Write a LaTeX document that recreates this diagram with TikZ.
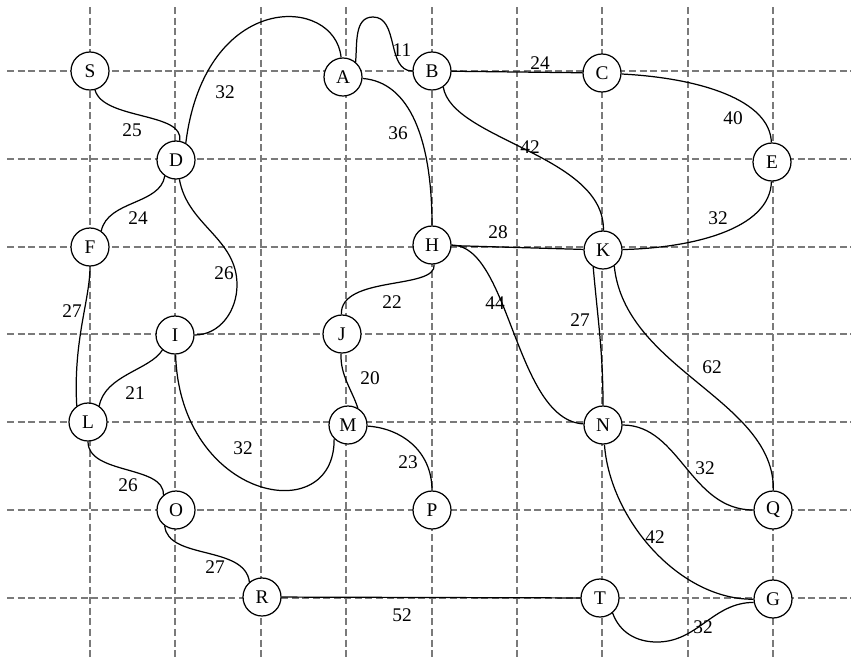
\documentclass[tikz,border=0pt]{standalone}
\usepackage{fontspec}
\setmainfont{Liberation Serif}
\usepackage{xcolor}
\usepackage{tikz}
\definecolor{GridGrey}{HTML}{7A7A7A}

\begin{document}
\begin{tikzpicture}[x=0.02cm, y=-0.02cm, font=\fontsize{11}{13}\selectfont,
  vtx/.style={draw, circle, fill=white, minimum size=7.6mm, inner sep=0pt, line width=0.7pt},
  grid line/.style={GridGrey, dash pattern=on 4pt off 2pt, line width=0.6pt},
  edge/.style={line width=0.7pt},
  wt/.style={inner sep=1pt}]
\useasboundingbox (0,0) rectangle (851,659);
%% dashed grid behind the graph
\foreach \y in {71,159,247,334,422,510,598}
  \draw[grid line] (7,\y) -- (851,\y);
\foreach \x in {90,175,261,346,432,517,602,688,773}
  \draw[grid line] (\x,7) -- (\x,659);
%% vertices
\foreach \n/\x/\y in {S/90/71, A/343/77, B/432/71, C/602/73, D/176/160, E/772/162,
    F/90/247, H/432/245, K/603/250, I/175/335, J/342/334, L/88/422, M/348/425,
    N/603/425, O/176/510, P/432/510, Q/773/510, R/262/597, T/600/598, G/773/599}
  \node[vtx] (\n) at (\x,\y) {\n};
\coordinate (pkAB) at (373,17);
\coordinate (bgDI) at (237,285);
\coordinate (dpTG) at (657,642);
%% edges
\draw[edge] (S) .. controls (103,120) and (185,112) .. (D);
\draw[edge] (D.60) .. controls (205,-10) and (335,-5) .. (A);
\draw[edge] (A.50) to[out=85,in=180] (pkAB) to[out=0,in=180] (B);
\draw[edge] (A) .. controls (410,82) and (432,140) .. (H);
\draw[edge] (B) -- (C);
\draw[edge] (B.-55) .. controls (452,140) and (605,155) .. (K);
\draw[edge] (C) .. controls (700,78) and (770,100) .. (E);
\draw[edge] (E) .. controls (770,230) and (690,248) .. (K);
\draw[edge] (H) -- (K);
\draw[edge] (H) .. controls (510,245) and (515,420) .. (N);
\draw[edge] (K.240) to[out=-85,in=90] (N);
\draw[edge] (K.-55) .. controls (625,370) and (775,400) .. (Q);
\draw[edge] (H) .. controls (437,290) and (340,275) .. (J);
\draw[edge] (D.-80) to[out=-80,in=90] (bgDI) to[out=-90,in=0] (I);
\draw[edge] (F.55) .. controls (108,200) and (160,205) .. (D.235);
\draw[edge] (F) .. controls (90,300) and (73,340) .. (L.125);
\draw[edge] (I.230) .. controls (150,370) and (105,375) .. (L.55);
\draw[edge] (I) .. controls (180,500) and (335,530) .. (M.225);
\draw[edge] (J) .. controls (340,375) and (352,390) .. (M.60);
\draw[edge] (M) .. controls (400,428) and (432,450) .. (P);
\draw[edge] (L) .. controls (88,475) and (165,465) .. (O.130);
\draw[edge] (O.235) .. controls (168,560) and (245,545) .. (R.130);
\draw[edge] (R) -- (T);
\draw[edge] (N) .. controls (680,425) and (690,510) .. (Q);
\draw[edge] (N) .. controls (610,520) and (680,600) .. (G);
\draw[edge] (T.-50) to[out=-70,in=180] (dpTG) to[out=0,in=180] (G.190);
%% weights
\foreach \w/\x/\y/\t in {wSD/132/130/25, wDA/225/92/32, wAB/402/50/11, wAH/398/133/36,
    wBC/540/63/24, wBK/530/147/42, wCE/733/118/40, wEK/718/218/32, wHK/498/232/28,
    wHN/495/303/44, wKN/580/320/27, wKQ/712/367/62, wHJ/392/302/22, wDI/224/273/26,
    wFD/138/218/24, wFL/72/311/27, wIL/135/393/21, wIM/243/448/32, wJM/370/378/20,
    wMP/408/462/23, wLO/128/485/26, wOR/215/567/27, wRT/402/615/52, wNQ/705/468/32,
    wNG/655/537/42, wTG/703/627/32}
  \node[wt] (\w) at (\x,\y) {\t};
\end{tikzpicture}
\end{document}
